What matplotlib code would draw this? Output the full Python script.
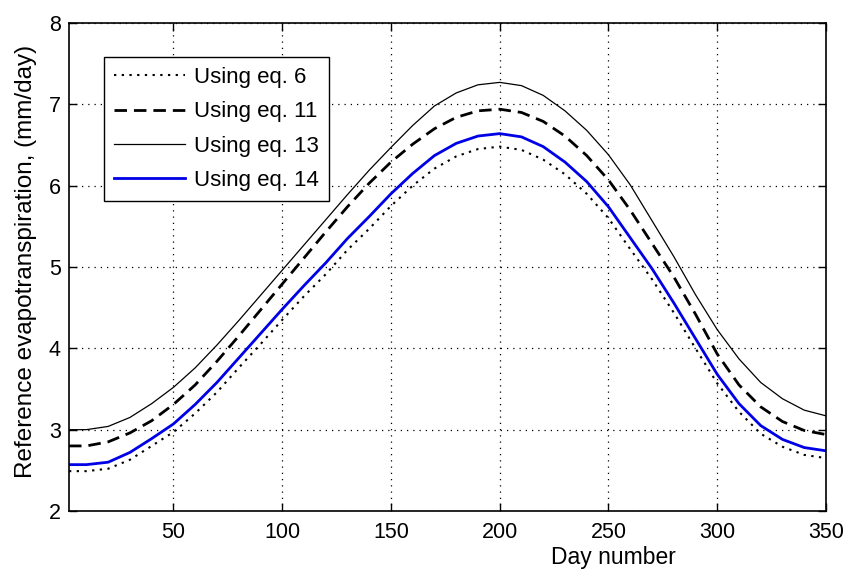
import matplotlib
matplotlib.use("Agg")
import matplotlib.pyplot as plt

days = [2, 10, 20, 30, 40, 50, 60, 70, 80, 90, 100, 110, 120, 130, 140, 150, 160, 170,
        180, 190, 200, 210, 220, 230, 240, 250, 260, 270, 280, 290, 300, 310, 320, 330,
        340, 350]

eq6 = [2.49, 2.49, 2.52, 2.63, 2.80, 2.97, 3.20, 3.46, 3.76, 4.05, 4.35, 4.64, 4.91, 5.21,
       5.47, 5.75, 6.00, 6.21, 6.36, 6.45, 6.48, 6.44, 6.32, 6.14, 5.90, 5.60, 5.22, 4.85,
       4.44, 4.00, 3.57, 3.22, 2.95, 2.79, 2.69, 2.65]

eq11 = [2.80, 2.80, 2.85, 2.96, 3.11, 3.31, 3.55, 3.84, 4.15, 4.47, 4.79, 5.11, 5.43, 5.74,
        6.03, 6.29, 6.51, 6.70, 6.84, 6.92, 6.94, 6.90, 6.79, 6.61, 6.37, 6.07, 5.70, 5.29,
        4.88, 4.42, 3.93, 3.55, 3.28, 3.10, 2.99, 2.94]

eq13 = [3.00, 3.00, 3.04, 3.15, 3.32, 3.52, 3.76, 4.04, 4.34, 4.65, 4.96, 5.27, 5.58, 5.89,
        6.19, 6.47, 6.74, 6.98, 7.14, 7.24, 7.27, 7.23, 7.11, 6.92, 6.68, 6.38, 6.01, 5.57,
        5.13, 4.66, 4.23, 3.87, 3.58, 3.38, 3.24, 3.17]

eq14 = [2.57, 2.57, 2.60, 2.72, 2.89, 3.07, 3.31, 3.58, 3.88, 4.18, 4.48, 4.77, 5.05, 5.35,
        5.62, 5.90, 6.15, 6.37, 6.52, 6.61, 6.64, 6.60, 6.48, 6.29, 6.05, 5.74, 5.36, 4.98,
        4.56, 4.12, 3.68, 3.32, 3.05, 2.88, 2.78, 2.74]

labels = ["Using eq. 6", "Using eq. 11", "Using eq. 13", "Using eq. 14"]
xticks = [50, 100, 150, 200, 250, 300, 350]
yticks = [2, 3, 4, 5, 6, 7, 8]

plt.rcParams['font.family'] = ['Liberation Sans', 'DejaVu Sans']
plt.rcParams['font.size'] = 15

fig = plt.figure(figsize=(8.46, 5.72), dpi=100)
ax = fig.add_axes([69/846, 1 - 511/572, 757/846, 488/572])

ax.plot(days, eq6, color='black', lw=1.5, dashes=(1.1, 2.6), label=labels[0])
ax.plot(days, eq11, color='black', lw=2.0, dashes=(4.5, 2.5), label=labels[1])
ax.plot(days, eq13, color='black', lw=0.9, label=labels[2])
ax.plot(days, eq14, color='#0000e6', lw=2.0, label=labels[3])

ax.set_xlim(2, 350)
ax.set_ylim(2, 8)
ax.set_xticks(xticks)
ax.set_yticks(yticks)
ax.grid(True, color='black', linestyle=(0, (1, 4)), linewidth=0.9)
ax.tick_params(direction='in', length=6, width=1, top=True, right=True, labelsize=15.5)
ax.tick_params(axis='x', pad=8)
ax.tick_params(axis='y', pad=6)
for s in ax.spines.values():
    s.set_linewidth(1.2)

ax.set_xlabel("Day number", fontsize=16.5)
ax.xaxis.set_label_coords((613 - 69) / 757, -0.072)
ax.set_ylabel("Reference evapotranspiration, (mm/day)", fontsize=17.5)
ax.yaxis.set_label_coords((37 - 69) / 757, 0.511)

leg = ax.legend(loc='upper left', bbox_to_anchor=(0.046, 0.930), borderaxespad=0,
                fancybox=False, framealpha=1, edgecolor='black', handlelength=3.2,
                handletextpad=0.4, labelspacing=0.6, borderpad=0.45, fontsize=16)
leg.get_frame().set_linewidth(1.0)

fig.savefig("out.png", dpi=100)
